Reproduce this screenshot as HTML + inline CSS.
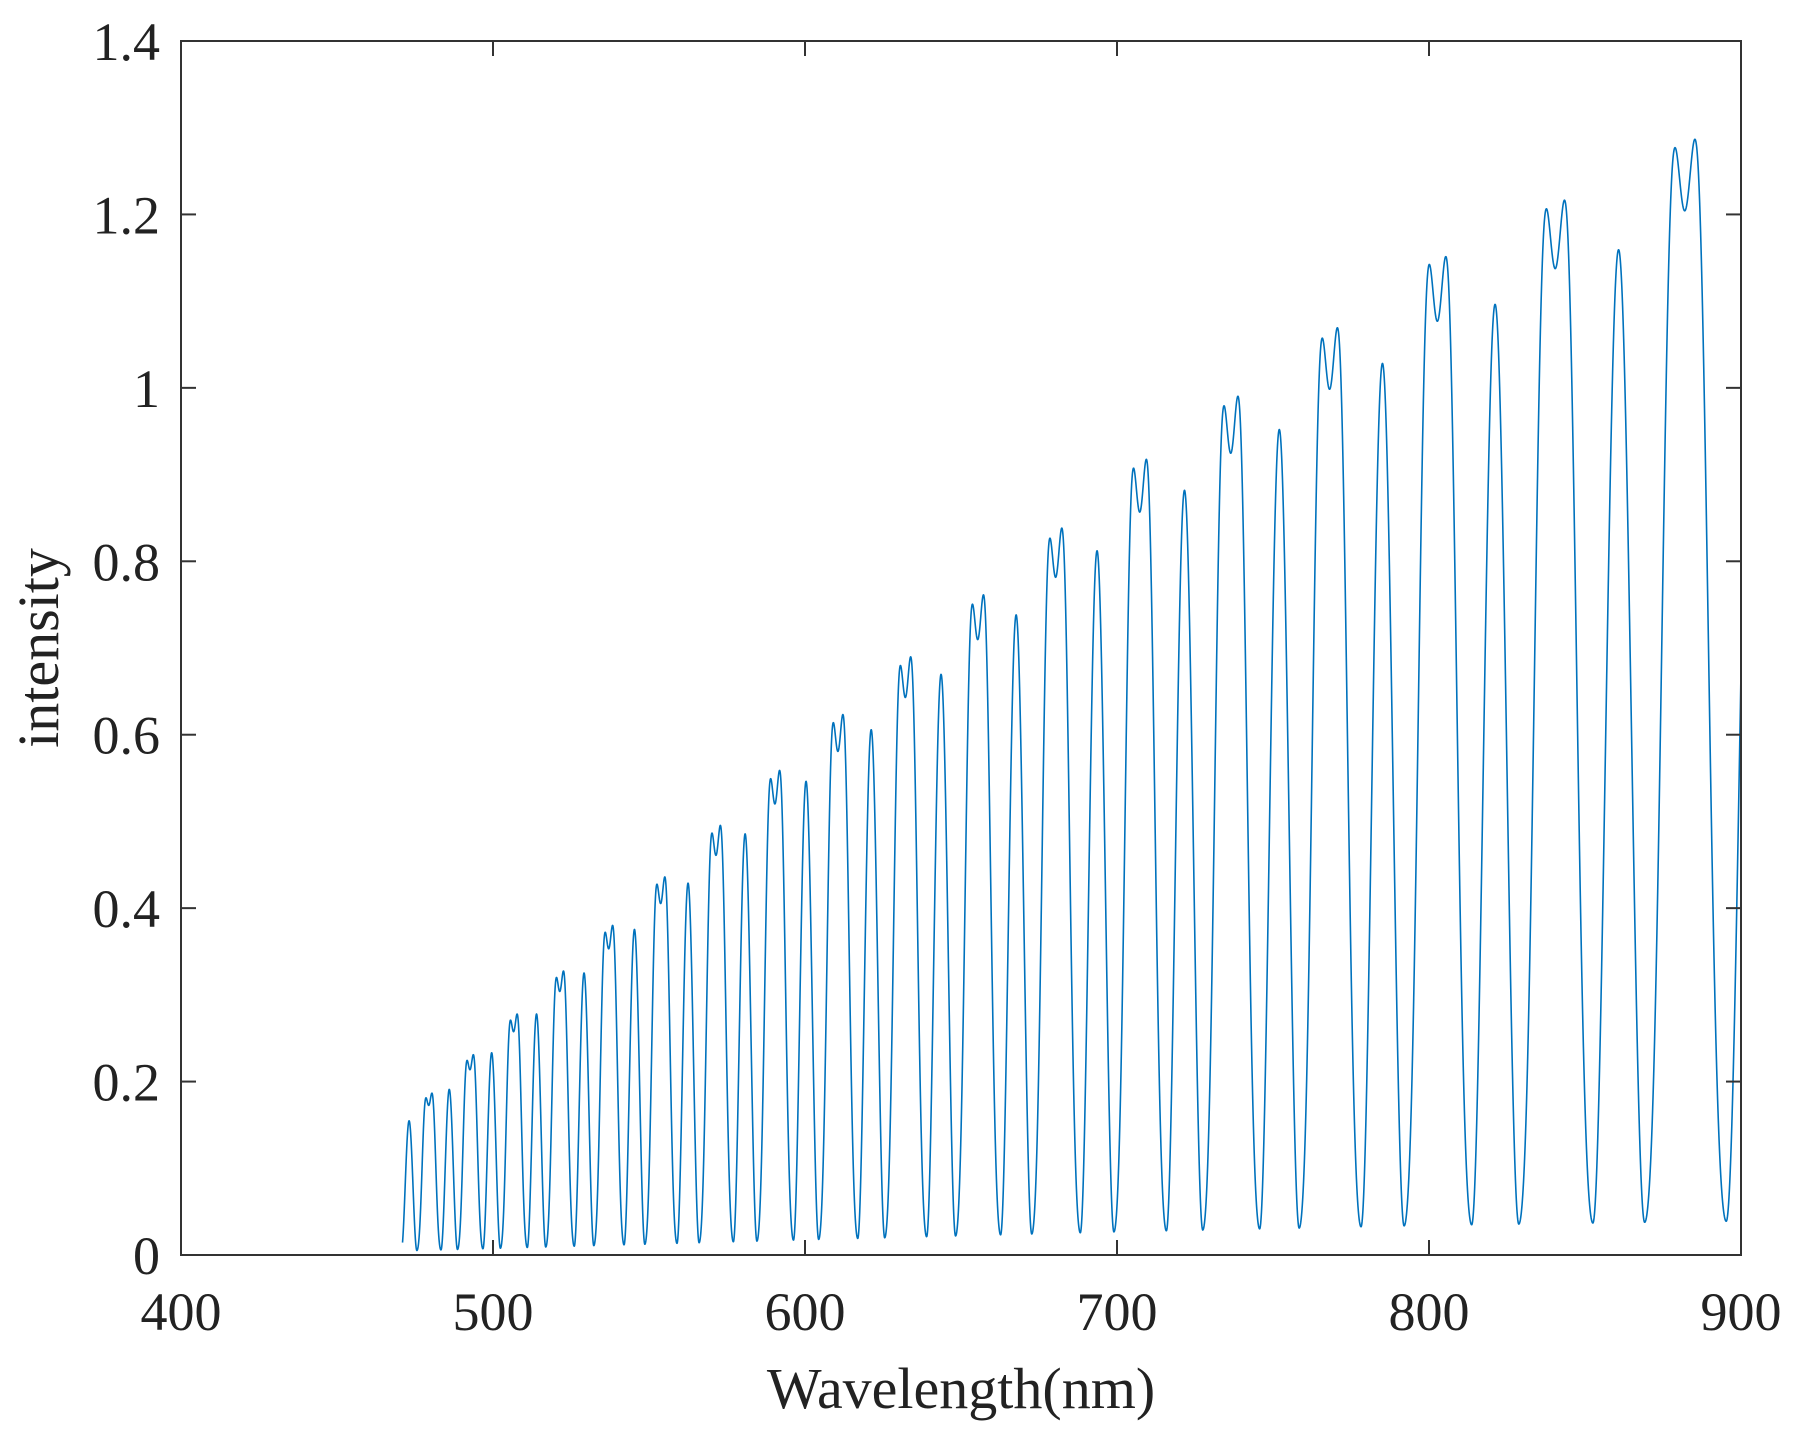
<!DOCTYPE html>
<html><head><meta charset="utf-8"><style>
html,body{margin:0;padding:0;background:#fff;}
svg text{font-family:"Liberation Serif",serif;fill:#222;}
</style></head><body>
<svg id="s" width="1794" height="1430" viewBox="0 0 1794 1430" xmlns="http://www.w3.org/2000/svg">
<rect width="1794" height="1430" fill="#fff"/>
<polyline id="p" fill="none" stroke="#0072BD" stroke-width="1.6" stroke-linejoin="round"/>
<rect x="181" y="41" width="1560" height="1214" fill="none" stroke="#333" stroke-width="2"/>
<g id="t" stroke="#333" stroke-width="2"></g>
<g id="l" font-size="54"></g>
<text x="961" y="1408" font-size="58" text-anchor="middle">Wavelength(nm)</text>
<text transform="translate(58,648) rotate(-90)" font-size="58" text-anchor="middle">intensity</text>
</svg>
<script>
const X0=181,X1=1741,Y0=1255,Y1=41;
const xs=v=>X0+(v-400)/500*(X1-X0), ys=v=>Y0-(v/1.4)*(Y0-Y1);
let t='',l='';
for(let v=400;v<=900;v+=100){const x=xs(v);t+=`<line x1="${x}" y1="${Y0}" x2="${x}" y2="${Y0-15}"/><line x1="${x}" y1="${Y1}" x2="${x}" y2="${Y1+15}"/>`;l+=`<text x="${x}" y="1330" text-anchor="middle">${v}</text>`;}
for(let i=0;i<=7;i++){const v=i*0.2,y=ys(v);t+=`<line x1="${X0}" y1="${y}" x2="${X0+15}" y2="${y}"/><line x1="${X1}" y1="${y}" x2="${X1-15}" y2="${y}"/>`;let s=i==0?'0':(i==5?'1':v.toFixed(1));l+=`<text x="160" y="${y+19}" text-anchor="end">${s}</text>`;}
document.getElementById('t').innerHTML=t;document.getElementById('l').innerHTML=l;
const E=[[460,0.13],[480,0.185],[600,0.585],[703,0.9],[800,1.14],[882,1.28],[920,1.33]];
function env(x){for(let i=0;i<E.length-1;i++){if(x<=E[i+1][0]){const a=E[i],b=E[i+1];return a[1]+(x-a[0])/(b[0]-a[0])*(b[1]-a[1]);}}return 1.33;}
const K=17857;
function f(lam){let t=K/lam-20.246;t=t-Math.floor(t);let d=t>0.5?t-1:t;let v;
if(Math.abs(d)<=0.3){const u=(d+0.3)/0.6;const s=Math.sin(Math.PI*u)**2;v=s*(1+0.5*Math.sin(2*Math.PI*u)**2)/1.065;}
else{let q=t<0.3?t+1:t;const u=(q-0.3)/0.4;v=0.93*Math.sin(Math.PI*u)**2;}
return 0.03+0.97*v;}
let pts=[];
for(let lam=471;lam<=900;lam+=0.05){pts.push(xs(lam).toFixed(2)+','+ys(env(lam)*f(lam)).toFixed(2));}
document.getElementById('p').setAttribute('points',pts.join(' '));
</script>
</body></html>
